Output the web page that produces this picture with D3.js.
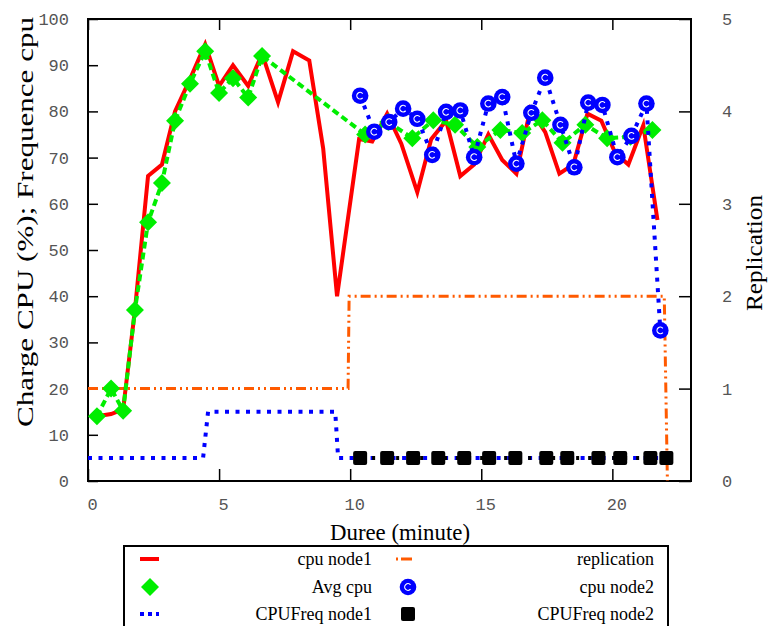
<!DOCTYPE html>
<html><head><meta charset="utf-8">
<script src="https://cdn.jsdelivr.net/npm/d3@7/dist/d3.min.js"></script>
<style>body{margin:0;background:#fff}</style>
</head><body>
<svg id="c" width="770" height="626"></svg>
<script>
// ---- data ----
const xTicks = [0, 5, 10, 15, 20];
const yTicks = [0, 10, 20, 30, 40, 50, 60, 70, 80, 90, 100];
const y2Ticks = [0, 1, 2, 3, 4, 5];

const cpuNode1 = [[0.34,14],[0.88,14.5],[1.34,15.5],[1.79,37],[2.29,66],[2.82,68.5],[3.32,80],[3.89,87],[4.47,94.5],[5.0,85.5],[5.53,90],[6.11,85.5],[6.64,92.5],[7.25,82],[7.82,93],[8.44,91],[8.97,72],[9.5,40],[10.34,74],[10.84,73.5],[11.41,79.5],[11.95,73],[12.56,62.5],[13.09,74],[13.66,78],[14.2,66],[14.73,68.5],[15.27,75],[15.8,69.5],[16.34,66.5],[16.87,80.5],[17.44,75.5],[17.98,66.5],[18.51,68.5],[19.05,79.5],[19.58,78],[20.11,71],[20.61,68.5],[21.18,77],[21.72,56.5]];

const avgCpu = [[0.34,14],[0.88,20],[1.34,15.2],[1.79,37],[2.29,56],[2.82,64.5],[3.32,78],[3.89,86],[4.47,93],[5.0,84],[5.53,87.2],[6.11,83],[6.64,92],[10.57,75],[11.45,77.7],[12.37,74.2],[13.17,78.1],[14.0,77.1],[14.85,72.3],[15.73,76],[16.56,75.3],[17.33,78.1],[18.1,73.2],[18.97,77.1],[19.8,74.2],[20.69,74.5],[21.53,76]];

const cpuNode2 = [[10.38,83.4],[10.92,75.6],[11.49,77.7],[12.02,80.6],[12.56,78.4],[13.13,70.6],[13.66,79.9],[14.2,80.2],[14.73,70.1],[15.27,81.7],[15.8,83.1],[16.34,68.7],[16.91,79.7],[17.44,87.3],[18.02,77.1],[18.55,67.9],[19.08,81.9],[19.62,81.4],[20.19,70.1],[20.73,74.7],[21.3,81.7],[21.83,32.6]];

const cpuFreqNode1 = [[0,5],[4.39,5],[4.58,15],[9.43,15],[9.54,5],[22.0,5]];
const cpuFreqNode2 = [[10.38,5],[11.41,5],[12.4,5],[13.36,5],[14.35,5],[15.3,5],[16.3,5],[17.48,5],[18.28,5],[19.47,5],[20.3,5],[21.45,5],[22.06,5]];
const replication = [[0,1],[9.92,1],[9.96,2],[21.98,2],[22.1,0]];

const legendNames = ["cpu node1", "replication", "Avg cpu", "cpu node2", "CPUFreq node1", "CPUFreq node2"];

// ---- drawing ----
const svg = d3.select("#c");
const L = 88, R = 691, T = 19, B = 481;
const x = d3.scaleLinear().domain([0, 23]).range([L, R]);
const y = d3.scaleLinear().domain([0, 100]).range([B, T]);
const y2 = d3.scaleLinear().domain([0, 5]).range([B, T]);

const monoFont = "'Liberation Mono', 'DejaVu Sans Mono', monospace";
const serifFont = "'Liberation Serif', 'DejaVu Serif', serif";

function styleAxis(g) {
  g.select(".domain").remove();
  g.selectAll(".tick line").attr("stroke", "#000").attr("stroke-width", 1.5);
  g.selectAll(".tick text").attr("fill", "#555").style("font-family", monoFont).style("font-size", "17px");
}

// axes
svg.append("g").attr("transform", `translate(${L},0)`)
  .call(d3.axisLeft(y).tickValues(yTicks).tickSizeInner(-10).tickSizeOuter(0).tickPadding(19))
  .call(styleAxis);
svg.append("g").attr("transform", `translate(0,${B})`)
  .call(d3.axisBottom(x).tickValues(xTicks).tickSizeInner(-12).tickSizeOuter(0).tickPadding(0))
  .call(styleAxis)
  .call(g => g.selectAll(".tick text").attr("y", 29).attr("dy", "0").attr("dx", 4));
svg.append("g").attr("transform", `translate(0,${T})`)
  .call(d3.axisTop(x).tickValues(xTicks).tickSizeInner(-11).tickSizeOuter(0).tickFormat(""))
  .call(styleAxis);
svg.append("g").attr("transform", `translate(${R},0)`)
  .call(d3.axisRight(y2).tickValues(y2Ticks).tickFormat(d3.format("d")).tickSizeInner(-12).tickSizeOuter(0).tickPadding(31))
  .call(styleAxis);

// frame
svg.append("rect").attr("x", L).attr("y", T).attr("width", R - L).attr("height", B - T)
  .attr("fill", "none").attr("stroke", "#000").attr("stroke-width", 2);

const line = d3.line().x(d => x(d[0])).y(d => y(d[1]));
const line2 = d3.line().x(d => x(d[0])).y(d => y2(d[1]));

const C = {red: "#ff0000", green: "#00ee00", blue: "#0000ff", orange: "#ff5a00", black: "#000"};
const dashRep = "10,4,2,4,2,4";
const dashDot = "4,6.5";
const dashGreen = "7,4";

const plot = svg.append("g");
// replication
plot.append("path").attr("d", line2(replication)).attr("fill", "none")
  .attr("stroke", C.orange).attr("stroke-width", 3).attr("stroke-dasharray", dashRep);
// cpu node1
plot.append("path").attr("d", line(cpuNode1)).attr("fill", "none")
  .attr("stroke", C.red).attr("stroke-width", 4).attr("stroke-linejoin", "miter");
// avg cpu
plot.append("path").attr("d", line(avgCpu)).attr("fill", "none")
  .attr("stroke", C.green).attr("stroke-width", 4).attr("stroke-dasharray", dashGreen);
const diamondPath = "M0,-9L9,0L0,9L-9,0Z";
plot.selectAll(".dia").data(avgCpu).join("path").attr("class", "dia")
  .attr("d", diamondPath).attr("fill", C.green)
  .attr("transform", d => `translate(${x(d[0])},${y(d[1])})`);
// cpu node2
plot.append("path").attr("d", line(cpuNode2)).attr("fill", "none")
  .attr("stroke", C.blue).attr("stroke-width", 4).attr("stroke-dasharray", dashDot);
const innerArc = d3.arc().innerRadius(2.7).outerRadius(3.9)
  .startAngle(Math.PI / 2 + 0.7).endAngle(Math.PI / 2 + 2 * Math.PI - 0.7)();
function circleMarker(sel) {
  sel.append("circle").attr("r", 8.3).attr("fill", C.blue);
  sel.append("path").attr("d", innerArc).attr("fill", "#fff");
}
plot.selectAll(".cir").data(cpuNode2).join("g").attr("class", "cir")
  .attr("transform", d => `translate(${x(d[0])},${y(d[1])})`)
  .each(function () { circleMarker(d3.select(this)); });
// cpu freq node1
plot.append("path").attr("d", line(cpuFreqNode1)).attr("fill", "none")
  .attr("stroke", C.blue).attr("stroke-width", 4).attr("stroke-dasharray", dashDot);
// cpu freq node2
plot.append("path").attr("d", line(cpuFreqNode2)).attr("fill", "none")
  .attr("stroke", C.black).attr("stroke-width", 4).attr("stroke-dasharray", "3,9");
function squareMarker(sel) {
  sel.append("rect").attr("x", -7).attr("y", -7).attr("width", 14).attr("height", 14)
    .attr("rx", 2).attr("fill", C.black);
}
plot.selectAll(".sq").data(cpuFreqNode2).join("g").attr("class", "sq")
  .attr("transform", d => `translate(${x(d[0])},${y(d[1])})`)
  .each(function () { squareMarker(d3.select(this)); });

// axis titles
svg.append("text").attr("x", 400).attr("y", 540).attr("text-anchor", "middle")
  .attr("textLength", 140).attr("lengthAdjust", "spacingAndGlyphs")
  .style("font-family", serifFont).style("font-size", "24px").text("Duree (minute)");
svg.append("text").attr("transform", "translate(33,222) rotate(-90)").attr("text-anchor", "middle")
  .attr("textLength", 410).attr("lengthAdjust", "spacingAndGlyphs")
  .style("font-family", serifFont).style("font-size", "24px").text("Charge CPU (%); Frequence cpu");
svg.append("text").attr("transform", "translate(762,253) rotate(-90)").attr("text-anchor", "middle")
  .attr("textLength", 116).attr("lengthAdjust", "spacingAndGlyphs")
  .style("font-family", serifFont).style("font-size", "24px").text("Replication");

// legend
const lg = svg.append("g");
lg.append("rect").attr("x", 124).attr("y", 546).attr("width", 544).attr("height", 100)
  .attr("fill", "#fff").attr("stroke", "#000").attr("stroke-width", 2);
const colS = [140, 396], colE = [372, 654], rowY = [559, 587, 614];
legendNames.forEach((name, i) => {
  const col = i % 2, row = Math.floor(i / 2);
  const sx = colS[col], cy = rowY[row];
  const g = lg.append("g");
  if (i === 0) g.append("line").attr("x1", sx).attr("x2", sx + 19).attr("y1", cy).attr("y2", cy).attr("stroke", C.red).attr("stroke-width", 4);
  if (i === 1) g.append("line").attr("x1", sx).attr("x2", sx + 16).attr("y1", cy).attr("y2", cy).attr("stroke", C.orange).attr("stroke-width", 3).attr("stroke-dasharray", "2,3,11");
  if (i === 2) g.append("path").attr("d", diamondPath).attr("fill", C.green).attr("transform", `translate(${sx + 10},${cy})`);
  if (i === 3) circleMarker(g.append("g").attr("transform", `translate(${sx + 12},${cy})`));
  if (i === 4) g.append("line").attr("x1", sx).attr("x2", sx + 19).attr("y1", cy).attr("y2", cy).attr("stroke", C.blue).attr("stroke-width", 4).attr("stroke-dasharray", "4,4");
  if (i === 5) squareMarker(g.append("g").attr("transform", `translate(${sx + 12},${cy})`));
  g.append("text").attr("x", colE[col]).attr("y", cy).attr("dy", "0.33em").attr("text-anchor", "end")
    .style("font-family", serifFont).style("font-size", "18px").text(name);
});
</script>
</body></html>
